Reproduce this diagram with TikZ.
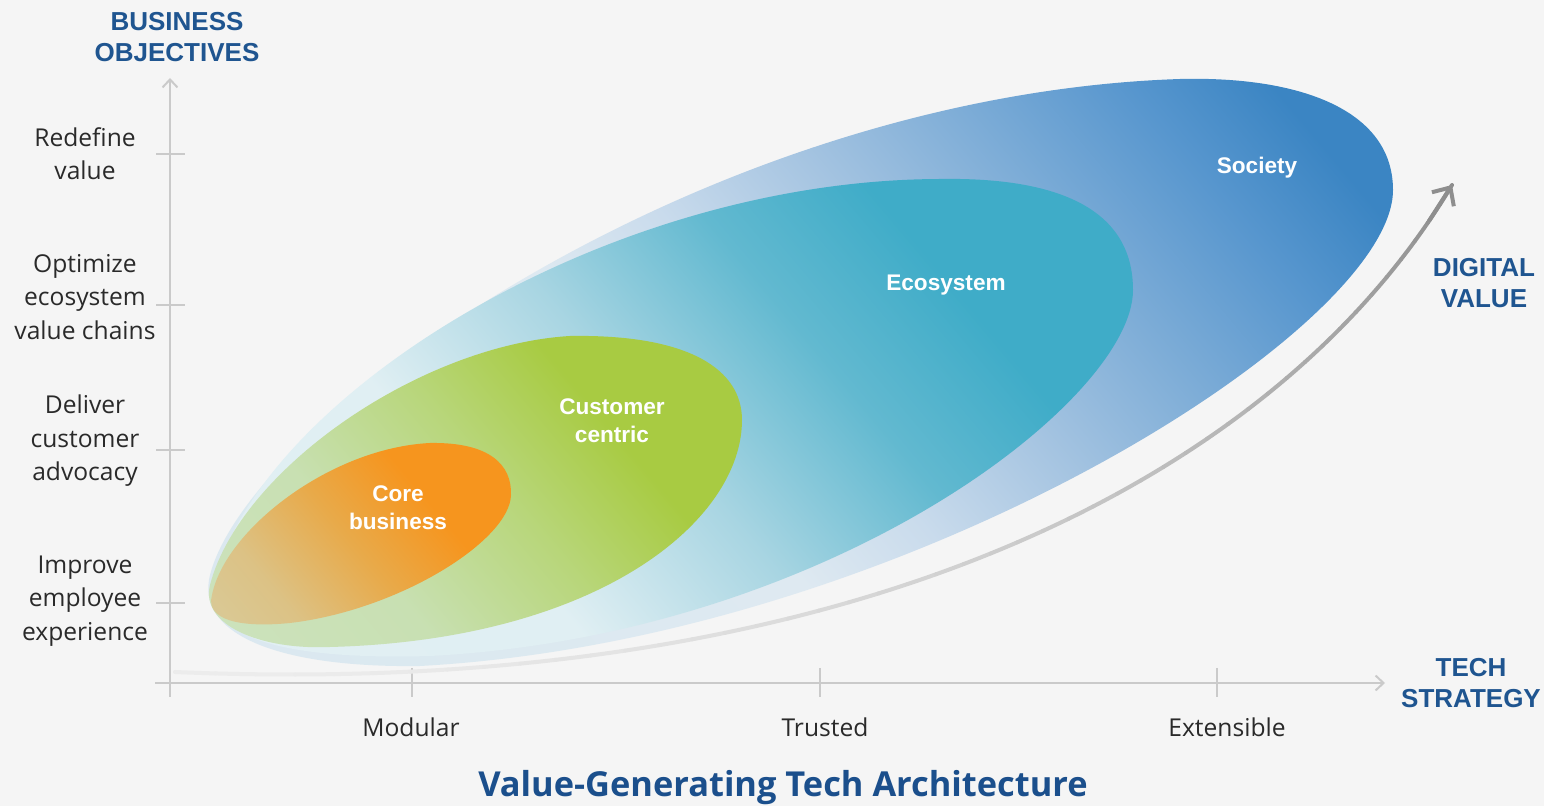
\documentclass[tikz,border=0pt]{standalone}
\usepackage{fontspec}
\setmainfont{Open Sans}
\newfontfamily\lab{Liberation Sans}
\usetikzlibrary{arrows.meta}
\definecolor{bg}{HTML}{F5F5F5}
\definecolor{axisgray}{HTML}{CACACA}
\definecolor{hblue}{HTML}{1F5590}
\definecolor{tblue}{HTML}{1B4F8C}
\definecolor{labtxt}{HTML}{2A2A2A}
\definecolor{arrL}{HTML}{ECECEC}
\definecolor{arrD}{HTML}{8E8E8E}
% society
\definecolor{s0}{HTML}{D8E8EF}
\definecolor{s1}{HTML}{DEE9F1}
\definecolor{s2}{HTML}{C9DBEC}
\definecolor{s3}{HTML}{A5C4E1}
\definecolor{s4}{HTML}{7EADD7}
\definecolor{s5}{HTML}{5796CE}
\definecolor{s6}{HTML}{3B85C3}
% ecosystem
\definecolor{e0}{HTML}{E2F0F4}
\definecolor{e1}{HTML}{E0EFF3}
\definecolor{e2}{HTML}{A8D5E2}
\definecolor{e3}{HTML}{62B9D0}
\definecolor{e4}{HTML}{3FACC8}
% green
\definecolor{g0}{HTML}{D0E4C6}
\definecolor{g1}{HTML}{C8E0B2}
\definecolor{g2}{HTML}{B8D67A}
\definecolor{g3}{HTML}{A8CB42}
% orange
\definecolor{o0}{HTML}{D5D3AD}
\definecolor{o1}{HTML}{DCC285}
\definecolor{o2}{HTML}{E8AA4A}
\definecolor{o3}{HTML}{F6951E}
\pgfdeclareverticalshading{socsh}{100bp}{color(0bp)=(s0); color(43bp)=(s1); color(50bp)=(s2); color(58bp)=(s3); color(66bp)=(s4); color(74bp)=(s5); color(80bp)=(s6); color(100bp)=(s6)}
\pgfdeclareverticalshading{ecosh}{100bp}{color(0bp)=(e0); color(36bp)=(e1); color(49bp)=(e2); color(61bp)=(e3); color(71bp)=(e4); color(100bp)=(e4)}
\pgfdeclareverticalshading{grnsh}{100bp}{color(0bp)=(g0); color(36bp)=(g1); color(53bp)=(g2); color(67bp)=(g3); color(100bp)=(g3)}
\pgfdeclareverticalshading{orgsh}{100bp}{color(0bp)=(o0); color(30bp)=(o1); color(48bp)=(o2); color(65bp)=(o3); color(100bp)=(o3)}
\begin{document}
\begin{tikzpicture}[x=0.5pt,y=-0.5pt,
  axisline/.style={draw=axisgray, line width=1pt},
  tickline/.style={draw=axisgray, line width=1.2pt},
  blobtxt/.style={text=white, font=\lab\bfseries\fontsize{11.3}{14}\selectfont, align=center, inner sep=0pt},
  ylab/.style={text=labtxt, font=\fontsize{12.3}{16.7}\selectfont, align=center, inner sep=0pt},
  xlab/.style={text=labtxt, font=\fontsize{12.3}{16.7}\selectfont, inner sep=0pt},
  headtxt/.style={text=hblue, font=\lab\bfseries\fontsize{13}{15.5}\selectfont, align=center, inner sep=0pt},
  blob/.style={shade, shading angle=-50}]
\useasboundingbox (0,0) rectangle (1544,806);
\fill[bg] (0,0) rectangle (1544,806);

% axes
\coordinate (yb) at (170,697);
\coordinate (yt) at (170,78);
\coordinate (xl) at (155,683);
\coordinate (xr) at (1385,683);
\draw[axisline, -{Straight Barb[length=4pt,width=7.5pt]}] (yb) -- (yt);
\draw[axisline, -{Straight Barb[length=4pt,width=7.5pt]}] (xl) -- (xr);
\foreach \yy/\nm in {154/ta,305/tb,450/tc,603/td}{
  \coordinate (\nm1) at (156,\yy); \coordinate (\nm2) at (185,\yy);
  \draw[tickline] (\nm1) -- (\nm2);
}
\foreach \xx/\nm in {412/xa,820/xb,1217/xc}{
  \coordinate (\nm1) at (\xx,668); \coordinate (\nm2) at (\xx,697);
  \draw[tickline] (\nm1) -- (\nm2);
}

% blobs
\path[blob, shading=socsh, shading angle=-50]
  (210,575) .. controls (250,420) and (700,95) .. (1180,79)
  .. controls (1300,76) and (1393,110) .. (1393,190)
  .. controls (1393,330) and (900,640) .. (420,666)
  .. controls (280,668) and (195,635) .. cycle;
\path[blob, shading=ecosh, shading angle=-50]
  (215,580) .. controls (260,400) and (600,180) .. (940,179)
  .. controls (1060,177) and (1133,210) .. (1133,290)
  .. controls (1133,400) and (830,635) .. (430,656)
  .. controls (290,660) and (200,640) .. cycle;
\path[blob, shading=grnsh, shading angle=-50]
  (210,585) .. controls (240,470) and (420,345) .. (570,336)
  .. controls (690,334) and (742,370) .. (742,420)
  .. controls (742,520) and (600,640) .. (330,647)
  .. controls (260,650) and (200,625) .. cycle;
\path[blob, shading=orgsh, shading angle=-50]
  (212,595) .. controls (225,530) and (330,448) .. (430,443)
  .. controls (490,442) and (512,465) .. (511,495)
  .. controls (510,540) and (400,610) .. (290,623)
  .. controls (240,628) and (205,620) .. cycle;

% curved arrow with gradient
\coordinate (cA) at (175,672);
\coordinate (cB) at (830,700);
\coordinate (cC) at (1270,490);
\coordinate (cD) at (1452,185);
\coordinate (cE) at (1428.9,221.1);
\foreach \i in {0,...,47}{
  \pgfmathsetmacro\ta{\i/48}
  \pgfmathsetmacro\tb{(\i+1)/48}
  \pgfmathtruncatemacro\pc{100*(\i/47)^1.6}
  \colorlet{segc}{arrD!\pc!arrL}
  \begin{pgfscope}
  \pgfsetlinewidth{2pt}
  \pgfsetroundcap
  \pgfsetstrokecolor{segc}
  \pgfpathcurvebetweentime{\ta}{\tb}{\pgfpointanchor{cA}{center}}{\pgfpointanchor{cB}{center}}{\pgfpointanchor{cC}{center}}{\pgfpointanchor{cD}{center}}
  \pgfusepath{stroke}
  \end{pgfscope}
}
\draw[arrD, line width=2pt, -{Straight Barb[length=7pt,width=13pt]}] (cE) -- (cD);

% blob labels
\node[blobtxt] (core) at (398,508) {Core\\business};
\node[blobtxt] (cust) at (612,421) {Customer\\centric};
\node[blobtxt] (eco) at (946,285) {Ecosystem};
\node[blobtxt] (soc) at (1257,168) {Society};

% y labels
\node[ylab] (l1) at (85,154) {Redefine\\value};
\node[ylab] (l2) at (85,297) {Optimize\\ecosystem\\value chains};
\node[ylab] (l3) at (85,441) {Deliver\\customer\\advocacy};
\node[ylab] (l4) at (85,601) {Improve\\employee\\experience};

% x labels
\node[xlab] (m1) at (411,727) {Modular};
\node[xlab] (m2) at (825,727) {Trusted};
\node[xlab] (m3) at (1227,727) {Extensible};

% headings
\node[headtxt] (bo) at (177,37) {BUSINESS\\OBJECTIVES};
\node[headtxt] (dv) at (1484,283) {DIGITAL\\VALUE};
\node[headtxt] (ts) at (1471,683) {TECH\\STRATEGY};
\node[text=tblue, font=\bfseries\fontsize{17.2}{20}\selectfont, inner sep=0pt] (title) at (783,788) {Value-Generating Tech Architecture};
\end{tikzpicture}
\end{document}
